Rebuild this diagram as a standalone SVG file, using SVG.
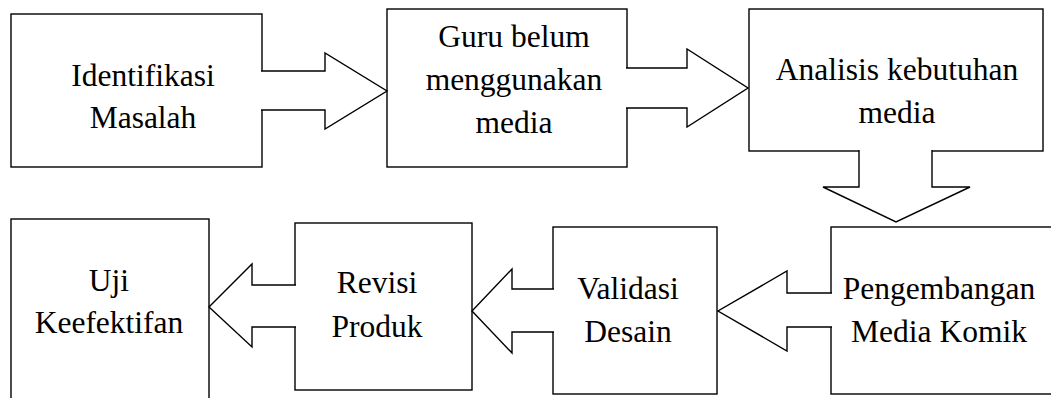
<svg xmlns="http://www.w3.org/2000/svg" width="1051" height="398" viewBox="0 0 1051 398">
<style>
.box{fill:#fff;stroke:#000;stroke-width:1.4}
.arr{fill:#fff;stroke:#000;stroke-width:1.4;stroke-linejoin:miter}
text{font-family:"Liberation Serif","Times New Roman",serif;font-size:31.5px;fill:#000;text-anchor:middle}
</style>
<rect width="1051" height="398" fill="#fff"/>
<g id="n1"><rect class="box" x="11" y="14" width="251" height="153"/><text x="143" y="86">Identifikasi</text><text x="143" y="128">Masalah</text></g>
<g id="n2"><rect class="box" x="387" y="9" width="240" height="158"/><text x="514" y="47">Guru belum</text><text x="514" y="90">menggunakan</text><text x="514" y="133">media</text></g>
<g id="n3"><rect class="box" x="749" y="9" width="294" height="142"/><text x="897" y="80">Analisis kebutuhan</text><text x="897" y="123">media</text></g>
<g id="n4"><rect class="box" x="831" y="227" width="240" height="167"/><text x="939" y="299">Pengembangan</text><text x="939" y="342">Media Komik</text></g>
<g id="n5"><rect class="box" x="553" y="227" width="164" height="167"/><text x="628" y="299">Validasi</text><text x="628" y="342">Desain</text></g>
<g id="n6"><rect class="box" x="295" y="223" width="177" height="167"/><text x="377" y="293">Revisi</text><text x="377" y="337">Produk</text></g>
<g id="n7"><rect class="box" x="11" y="219" width="198" height="200"/><text x="109" y="291">Uji</text><text x="109" y="333">Keefektifan</text></g>
<g id="connectors">
<path class="arr" d="M261,71 H325 V53 L387,91 L325,129 V110 H261"/>
<path class="arr" d="M626,68 H687 V49 L748,88 L687,127 V108 H626"/>
<path class="arr" d="M859,150 V187 H823 L896,222 L970,187 H932 V150"/>
<path class="arr" d="M832,293 H787 V271 L718,311 L787,351 V327 H832"/>
<path class="arr" d="M554,289 H512 V269 L472,311 L512,353 V332 H554"/>
<path class="arr" d="M296,285 H252 V264 L209,307 L252,347 V327 H296"/>
</g>
</svg>
